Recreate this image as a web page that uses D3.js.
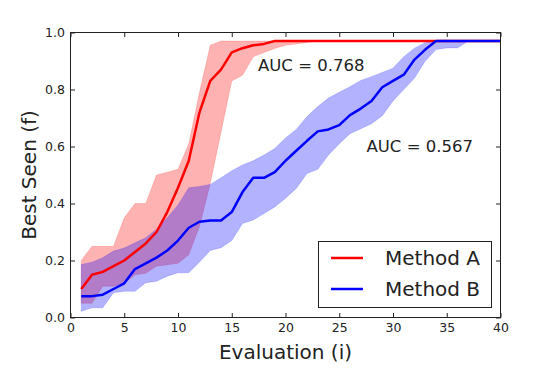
<!DOCTYPE html>
<html>
<head>
<meta charset="utf-8">
<script src="https://cdn.jsdelivr.net/npm/d3@7"></script>
<style>
  html, body { margin: 0; padding: 0; background: #fff; }
  svg { display: block; }
  text { font-family: "DejaVu Sans", sans-serif; fill: #222; }
</style>
</head>
<body>
<svg id="chart" width="540" height="381"></svg>
<script>
// ---- data ----
const evaluations = d3.range(1, 41);

const methodAMean = [0.10,0.15,0.16,0.18,0.20,0.23,0.26,0.30,0.37,0.455,
  0.55,0.72,0.83,0.87,0.93,0.945,0.955,0.96,0.97,0.97,
  0.97,0.97,0.97,0.97,0.97,0.97,0.97,0.97,0.97,0.97,
  0.97,0.97,0.97,0.97,0.97,0.97,0.97,0.97,0.97,0.97];
const methodAUpper = [0.20,0.25,0.25,0.25,0.35,0.40,0.40,0.50,0.51,0.52,
  0.61,0.79,0.955,0.97,0.97,0.97,0.97,0.97,0.97,0.97,
  0.97,0.97,0.97,0.97,0.97,0.97,0.97,0.97,0.97,0.97,
  0.97,0.97,0.97,0.97,0.97,0.97,0.97,0.97,0.97,0.97];
const methodALower = [0.05,0.05,0.11,0.11,0.12,0.15,0.155,0.18,0.185,0.19,
  0.22,0.32,0.47,0.65,0.83,0.85,0.915,0.93,0.944,0.955,
  0.96,0.965,0.97,0.97,0.97,0.97,0.97,0.97,0.97,0.97,
  0.97,0.97,0.97,0.97,0.97,0.97,0.97,0.97,0.97,0.97];

const methodBMean = [0.075,0.075,0.08,0.10,0.12,0.17,0.19,0.21,0.235,0.27,
  0.315,0.336,0.34,0.34,0.37,0.44,0.49,0.49,0.51,0.55,
  0.585,0.62,0.653,0.66,0.675,0.71,0.733,0.76,0.808,0.83,
  0.852,0.905,0.94,0.97,0.97,0.97,0.97,0.97,0.97,0.97];
const methodBUpper = [0.186,0.194,0.21,0.233,0.244,0.262,0.28,0.31,0.35,0.395,
  0.455,0.46,0.467,0.49,0.515,0.535,0.55,0.57,0.593,0.63,
  0.66,0.705,0.74,0.77,0.79,0.81,0.832,0.845,0.86,0.875,
  0.915,0.945,0.965,0.97,0.97,0.97,0.97,0.97,0.97,0.97];
const methodBLower = [0.022,0.034,0.034,0.087,0.092,0.092,0.122,0.127,0.145,0.157,
  0.157,0.195,0.235,0.245,0.27,0.33,0.342,0.365,0.388,0.418,
  0.453,0.505,0.52,0.57,0.61,0.645,0.662,0.68,0.708,0.76,
  0.80,0.84,0.90,0.94,0.946,0.946,0.97,0.97,0.97,0.97];

const seriesNames = ["Method A", "Method B"];
const seriesColors = ["#ff0000", "#0000ff"];
const aucLabels = ["AUC = 0.768", "AUC = 0.567"];
const xTicks = [0,5,10,15,20,25,30,35,40];
const yTicks = [0,0.2,0.4,0.6,0.8,1.0];

// ---- layout ----
const svg = d3.select("#chart");
const L = 70.5, R = 500.5, T = 32.5, B = 317.5;
const x = d3.scaleLinear().domain([0, 40]).range([L, R]);
const y = d3.scaleLinear().domain([0, 1]).range([B, T]);

const series = [
  {mean: methodAMean, lo: methodALower, hi: methodAUpper},
  {mean: methodBMean, lo: methodBLower, hi: methodBUpper}
];

const area = (s) => d3.area()
  .x((d, i) => x(evaluations[i]))
  .y0((d, i) => y(s.lo[i]))
  .y1((d, i) => y(s.hi[i]));
const line = (s) => d3.line()
  .x((d, i) => x(evaluations[i]))
  .y((d, i) => y(s.mean[i]));

// bands
series.forEach((s, k) => {
  svg.append("path")
    .attr("d", area(s)(s.mean))
    .attr("fill", seriesColors[k])
    .attr("fill-opacity", 0.3)
    .attr("stroke", seriesColors[k])
    .attr("stroke-opacity", 0.15)
    .attr("stroke-width", 1);
});
// mean lines
series.forEach((s, k) => {
  svg.append("path")
    .attr("d", line(s)(s.mean))
    .attr("fill", "none")
    .attr("stroke", seriesColors[k])
    .attr("stroke-width", 2.5)
    .attr("stroke-linejoin", "round");
});

// axes (ticks inward)
const tickLen = 4.5;
const gx = svg.append("g").attr("transform", `translate(0,${B})`)
  .call(d3.axisBottom(x).tickValues(xTicks).tickSizeInner(-tickLen).tickSizeOuter(0).tickPadding(6).tickFormat(d3.format("d")));
const gy = svg.append("g").attr("transform", `translate(${L},0)`)
  .call(d3.axisLeft(y).tickValues(yTicks).tickSizeInner(-tickLen).tickSizeOuter(0).tickPadding(5.5).tickFormat(d3.format(".1f")));
const gt = svg.append("g").attr("transform", `translate(0,${T})`)
  .call(d3.axisTop(x).tickValues(xTicks).tickSizeInner(-tickLen).tickSizeOuter(0).tickFormat(""));
const gr = svg.append("g").attr("transform", `translate(${R},0)`)
  .call(d3.axisRight(y).tickValues(yTicks).tickSizeInner(-tickLen).tickSizeOuter(0).tickFormat(""));
[gx, gy, gt, gr].forEach(g => {
  g.select(".domain").remove();
  g.selectAll(".tick line").attr("stroke", "#222").attr("stroke-width", 1);
  g.selectAll(".tick text").attr("font-size", "12.5px").attr("fill", "#222")
    .style("font-family", "'DejaVu Sans', sans-serif");
});

// frame
svg.append("rect")
  .attr("x", L).attr("y", T).attr("width", R - L).attr("height", B - T)
  .attr("fill", "none").attr("stroke", "#222").attr("stroke-width", 1);

// axis labels
svg.append("text")
  .attr("x", (L + R) / 2).attr("y", 359)
  .attr("text-anchor", "middle").attr("font-size", "20px")
  .text("Evaluation (i)");
svg.append("text")
  .attr("transform", `translate(35.5,${(T + B) / 2}) rotate(-90)`)
  .attr("text-anchor", "middle").attr("font-size", "20px")
  .text("Best Seen (f)");

// AUC annotations
svg.append("text").attr("x", 258).attr("y", 70.5).attr("font-size", "16.5px").text(aucLabels[0]);
svg.append("text").attr("x", 366.5).attr("y", 151.5).attr("font-size", "16.5px").text(aucLabels[1]);

// legend
const lg = svg.append("g");
lg.append("rect").attr("x", 318.5).attr("y", 241.5).attr("width", 173).attr("height", 66)
  .attr("fill", "#fff").attr("stroke", "#222").attr("stroke-width", 1);
seriesNames.forEach((name, k) => {
  const yy = 258 + k * 31;
  lg.append("line").attr("x1", 331).attr("x2", 363).attr("y1", yy).attr("y2", yy)
    .attr("stroke", seriesColors[k]).attr("stroke-width", 2.5);
  lg.append("text").attr("x", 385).attr("y", yy + 7).attr("font-size", "20px").text(name);
});
</script>
</body>
</html>
